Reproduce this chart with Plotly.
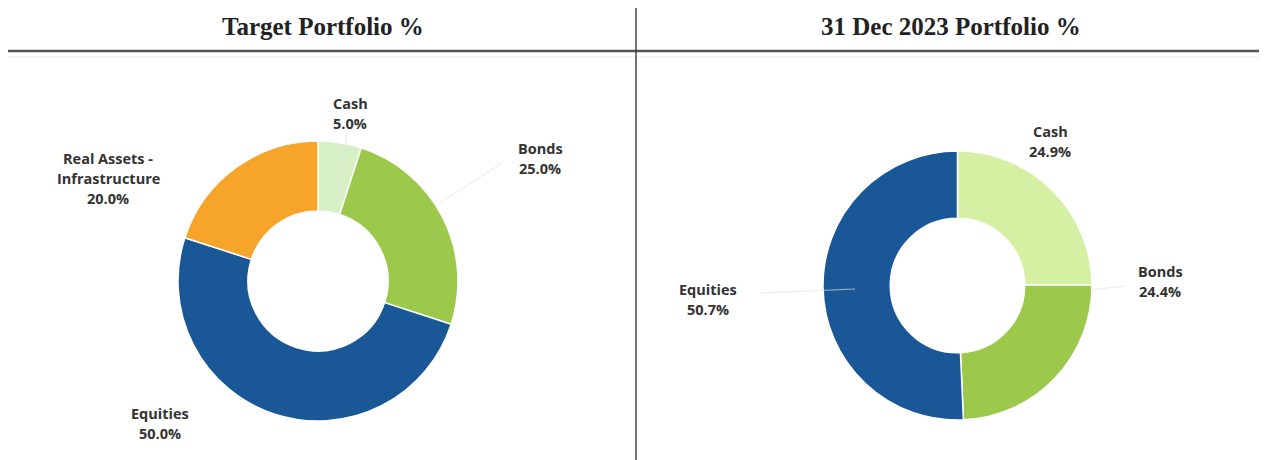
import plotly.graph_objects as go

# Data
target_labels = ["Cash", "Bonds", "Equities", "Real Assets -<br>Infrastructure"]
target_values = [5.0, 25.0, 50.0, 20.0]
target_colors = ["#d6efc4", "#9cc84c", "#1a5796", "#f6a52a"]

actual_labels = ["Cash", "Bonds", "Equities"]
actual_values = [24.9, 24.4, 50.7]
actual_colors = ["#d5f0a2", "#9cc84c", "#1a5796"]

titles = ["Target Portfolio %", "31 Dec 2023 Portfolio %"]

W, H = 1267, 460
OX, OY = 8, 8  # page body margin offset


def px(x):
    return (x - OX) / W


def py(y):
    return 1 - (y - OY) / H


fig = go.Figure()
fig.add_trace(go.Pie(
    labels=target_labels, values=target_values, hole=0.5, sort=False,
    direction="clockwise", rotation=0, textinfo="none",
    marker=dict(colors=target_colors, line=dict(color="white", width=1.5)),
    domain=dict(x=[px(178), px(458)], y=[py(421), py(141)]),
    showlegend=False,
))
fig.add_trace(go.Pie(
    labels=actual_labels, values=actual_values, hole=0.5, sort=False,
    direction="clockwise", rotation=0, textinfo="none",
    marker=dict(colors=actual_colors, line=dict(color="white", width=1.5)),
    domain=dict(x=[px(823), px(1092)], y=[py(420), py(151)]),
    showlegend=False,
))

annotations = []
for t, cx in zip(titles, [323, 951]):
    annotations.append(dict(x=px(cx), y=py(26), xref="paper", yref="paper",
                            text="<b>" + t + "</b>", showarrow=False,
                            font=dict(family="Liberation Serif", size=25, color="#222"),
                            xanchor="center", yanchor="middle"))

target_pos = [(350, 113), (540, 158), (160, 423), (108, 178)]
actual_pos = [(1050, 141), (1160, 281), (708, 299)]


def add_labels(labels, values, positions):
    for lab, val, (lx, ly) in zip(labels, values, positions):
        lines = lab.split("<br>") + [f"{val:.1f}%"]
        n = len(lines)
        for i, ln in enumerate(lines):
            yy = ly + (i - (n - 1) / 2) * 20
            annotations.append(dict(x=px(lx), y=py(yy), xref="paper", yref="paper",
                                    text="<b>" + ln + "</b>", showarrow=False,
                                    font=dict(family="Open Sans", size=14.5, color="#333"),
                                    xanchor="center", yanchor="middle"))


add_labels(target_labels, target_values, target_pos)
add_labels(actual_labels, actual_values, actual_pos)

faint = "rgba(225,225,225,0.7)"
leaders = [((347, 132), (337, 202)), ((502, 163), (440, 203)),
           ((760, 293), (855, 289)), ((1090, 290), (1125, 286))]
shapes = [
    dict(type="line", xref="paper", yref="paper", x0=px(8), x1=px(1267),
         y0=py(51), y1=py(51), line=dict(color="#555", width=2.5)),
    dict(type="line", xref="paper", yref="paper", x0=px(8), x1=px(1267),
         y0=py(57), y1=py(57), line=dict(color="#ececec", width=1)),
    dict(type="line", xref="paper", yref="paper", x0=px(636), x1=px(636),
         y0=py(470), y1=py(8), line=dict(color="#444", width=1.5)),
]
for (x0, y0), (x1, y1) in leaders:
    shapes.append(dict(type="line", xref="paper", yref="paper", x0=px(x0), x1=px(x1),
                       y0=py(y0), y1=py(y1), line=dict(color=faint, width=1)))

fig.update_layout(
    width=W, height=H, margin=dict(l=0, r=0, t=0, b=0),
    paper_bgcolor="white", plot_bgcolor="white",
    annotations=annotations, shapes=shapes,
)

fig.write_html("out.html")
